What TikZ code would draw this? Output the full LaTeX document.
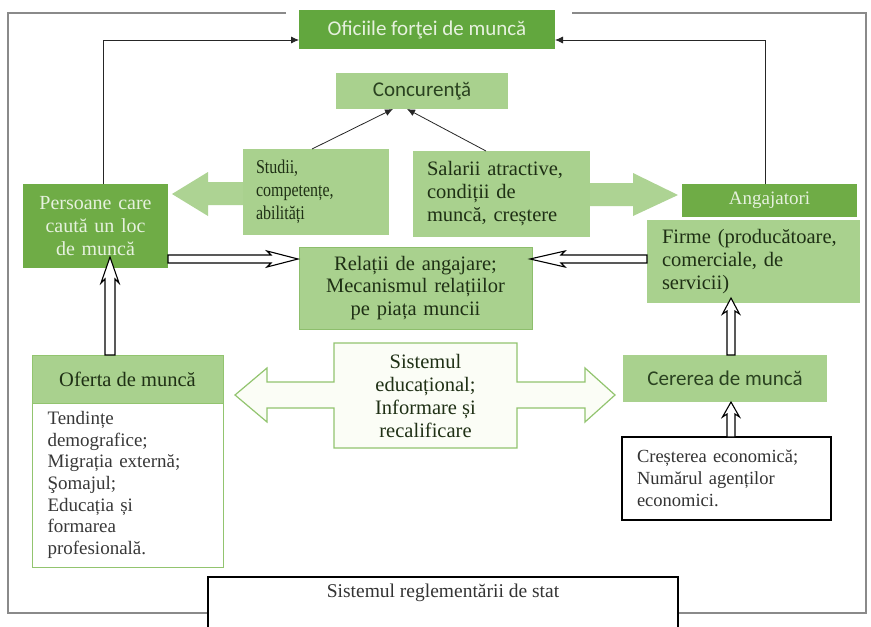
\documentclass[tikz,border=0pt]{standalone}
\usepackage{fontspec}
\setmainfont{Liberation Serif}
\newfontfamily\calib{Carlito}
\newfontfamily\condser[FakeStretch=0.82]{Liberation Serif}
\usetikzlibrary{arrows.meta}
\definecolor{topg}{HTML}{62A73E}
\definecolor{midg}{HTML}{6FAC46}
\definecolor{lightg}{HTML}{A9D18E}
\definecolor{arrowg}{HTML}{ADD393}
\definecolor{borderg}{HTML}{8DBE6C}
\definecolor{txtg}{HTML}{1F3015}
\definecolor{paleg}{HTML}{E6F1DE}
\definecolor{calg}{HTML}{2A4220}
\definecolor{framec}{HTML}{8A8A8A}
\definecolor{edfill}{HTML}{FBFDF6}
\definecolor{edline}{HTML}{92C46F}
\begin{document}
\begin{tikzpicture}[x=1pt,y=-1pt,
  box/.style={rectangle, inner sep=0pt, outer sep=0pt},
  lightbox/.style={box, fill=lightg, draw=borderg, line width=0.7pt, text=txtg},
  darkbox/.style={box, fill=midg, text=paleg},
  whitebox/.style={box, fill=white, draw=black, line width=1.3pt, text=black!80},
  thinarrow/.style={draw=black!85, line width=0.8pt, -{Latex[length=8pt,width=7pt]}},
  hollowarrow/.style={draw=black, fill=white, line width=1.1pt, line join=miter},
  framel/.style={draw=framec, line width=1.3pt}
]
\useasboundingbox (0,0) rectangle (871,627);
\clip (0,0) rectangle (871,627);
\fill[white] (0,0) rectangle (871,627);

% outer frame
\draw[framel] (286,13) -| (8,613) -- (208,613);
\draw[framel] (572,13) -| (866,613) -- (678,613);

% top
\node[box, fill=topg, text=paleg, minimum width=256, minimum height=39, font=\calib\fontsize{21}{23}\selectfont] (oficiile) at (427,29.5) {Oficiile forţei de muncă};
\node[lightbox, draw=none, text=calg, minimum width=172, minimum height=36, font=\calib\fontsize{21}{23}\selectfont] (concur) at (422,91) {Concurenţă};

% middle boxes
\node[lightbox, draw=none, minimum width=146, minimum height=86, text width=120, inner xsep=13, align=left, font=\condser\fontsize{19.5}{23}\selectfont] (studii) at (316,192) {Studii,\\competențe,\\abilități};
\node[lightbox, draw=none, minimum width=177, minimum height=86, text width=149, inner xsep=14, align=left, font=\fontsize{20.5}{23}\selectfont] (salarii) at (501.5,194) {Salarii atractive,\\condiții de\\muncă, creștere};
\node[darkbox, minimum width=145, minimum height=84, text width=145, align=center, font=\fontsize{20}{23}\selectfont] (persoane) at (95.5,226) {Persoane care\\caută un loc\\de muncă};
\node[darkbox, minimum width=175, minimum height=33, font=\fontsize{19}{23}\selectfont] (angaj) at (769.5,200.5) {Angajatori};
\node[lightbox, draw=none, minimum width=213, minimum height=83, text width=183, inner xsep=15, align=left, font=\fontsize{20.5}{23}\selectfont] (firme) at (753.5,261.5) {Firme (producătoare,\\comerciale, de\\servicii)};
\node[lightbox, minimum width=233, minimum height=82, text width=233, align=center, font=\fontsize{20.5}{22.5}\selectfont] (relatii) at (415.5,288) {Relații de angajare;\\Mecanismul relațiilor\\pe piața muncii};

% lower left
\node[lightbox, draw=edline, line width=1pt, minimum width=191, minimum height=48, font=\fontsize{20.5}{23}\selectfont] (oferta) at (127.5,379) {Oferta de muncă};
\node[box, fill=white, draw=edline, line width=1pt, text=black!78, minimum width=191, minimum height=164, text width=160, inner xsep=15.5, align=left, font=\fontsize{19}{21.7}\selectfont] (oferbody) at (127.5,485) {Tendințe\\demografice;\\Migrația externă;\\Şomajul;\\Educația și\\formarea\\profesională.};

% educational double arrow box
\filldraw[fill=edfill, draw=edline, line width=1.2pt]
  (334,343) -- (517,343) -- (517,382) -- (585,382) -- (585,368) -- (615,395) -- (585,422) -- (585,408) -- (517,408) -- (517,448)
  -- (334,448) -- (334,408) -- (267,408) -- (267,422) -- (235,395) -- (267,368) -- (267,382) -- (334,382) -- cycle;
\node[box, text=txtg, align=center, font=\fontsize{20.5}{23}\selectfont] (sised) at (425.5,396) {Sistemul\\educațional;\\Informare și\\recalificare};

% lower right
\node[lightbox, draw=none, text=calg, minimum width=204, minimum height=47, font=\calib\fontsize{21}{23}\selectfont] (cererea) at (725,378.5) {Cererea de muncă};
\node[whitebox, minimum width=209, minimum height=83, text width=179, inner xsep=15, align=left, font=\fontsize{18.5}{22}\selectfont] (crest) at (726.5,478.5) {Creșterea economică;\\Numărul agenților\\economici.};

% bottom
\node[whitebox, anchor=north, minimum width=470, inner ysep=6, text height=14, text depth=40, font=\fontsize{19.5}{23}\selectfont] (sisreg) at (443,577) {Sistemul reglementării de stat};

% big green arrows
\fill[arrowg] (studii.west |- 0,182) -- (208,182) -- (208,172) -- (172,194) -- (208,216) -- (208,205) -- (studii.west |- 0,205) -- cycle;
\fill[arrowg] (salarii.east |- 0,183) -- (633,183) -- (633,173) -- (678,195) -- (633,216) -- (633,206) -- (salarii.east |- 0,206) -- cycle;

% thin connectors
\draw[thinarrow] (persoane.north -| 103,0) |- ([yshift=-10.5pt]oficiile.west);
\draw[thinarrow] (angaj.north -| 765,0) |- ([yshift=-10.5pt]oficiile.east);
\draw[thinarrow] (studii.north -| 312,0) -- ([xshift=-29pt]concur.south);
\draw[thinarrow] (salarii.north -| 486,0) -- ([xshift=-15pt]concur.south);

% hollow arrows: Persoane -> Relatii
\coordinate (pa) at ([yshift=9pt]persoane.south east);
\coordinate (pt) at ([xshift=-1pt]pa -| relatii.west);
\draw[hollowarrow] ([yshift=4pt]pa) -- ([xshift=-27pt,yshift=4pt]pt) -- ([xshift=-31pt,yshift=8pt]pt) -- (pt)
  -- ([xshift=-31pt,yshift=-8pt]pt) -- ([xshift=-27pt,yshift=-4pt]pt) -- ([yshift=-4pt]pa) -- cycle;

% Firme -> Relatii
\coordinate (fa) at ([yshift=2.5pt]firme.west);
\coordinate (ft) at ([xshift=-2pt]fa -| relatii.east);
\draw[hollowarrow] ([yshift=4pt]fa) -- ([xshift=31pt,yshift=4pt]ft) -- ([xshift=35pt,yshift=8pt]ft) -- (ft)
  -- ([xshift=35pt,yshift=-8pt]ft) -- ([xshift=31pt,yshift=-4pt]ft) -- ([yshift=-4pt]fa) -- cycle;

% Oferta -> Persoane
\coordinate (ua) at ([xshift=-17.5pt]oferta.north);
\coordinate (ub) at (ua |- persoane.south);
\coordinate (ut) at ([yshift=11pt]ub);
\draw[hollowarrow] ([xshift=-5pt]ua) -- ([xshift=-5pt,yshift=-22pt]ut) -- ([xshift=-9pt,yshift=-26pt]ut) -- (ut)
  -- ([xshift=9pt,yshift=-26pt]ut) -- ([xshift=5pt,yshift=-22pt]ut) -- ([xshift=5pt]ua) -- cycle;

% Cererea -> Firme
\coordinate (ca) at ([xshift=6pt]cererea.north);
\coordinate (cb) at (ca |- firme.south);
\coordinate (ct) at ([yshift=5pt]cb);
\draw[hollowarrow] ([xshift=-4pt]ca) -- ([xshift=-4pt,yshift=-13pt]ct) -- ([xshift=-8.5pt,yshift=-16pt]ct) -- (ct)
  -- ([xshift=8.5pt,yshift=-16pt]ct) -- ([xshift=4pt,yshift=-13pt]ct) -- ([xshift=4pt]ca) -- cycle;

% Cresterea -> Cererea
\coordinate (cc) at ([xshift=4.5pt]crest.north);
\coordinate (cd) at (cc |- cererea.south);
\draw[hollowarrow] ([xshift=-4pt]cc) -- ([xshift=-4pt,yshift=-12pt]cd) -- ([xshift=-8.5pt,yshift=-15pt]cd) -- (cd)
  -- ([xshift=8.5pt,yshift=-15pt]cd) -- ([xshift=4pt,yshift=-12pt]cd) -- ([xshift=4pt]cc) -- cycle;
\end{tikzpicture}
\end{document}
